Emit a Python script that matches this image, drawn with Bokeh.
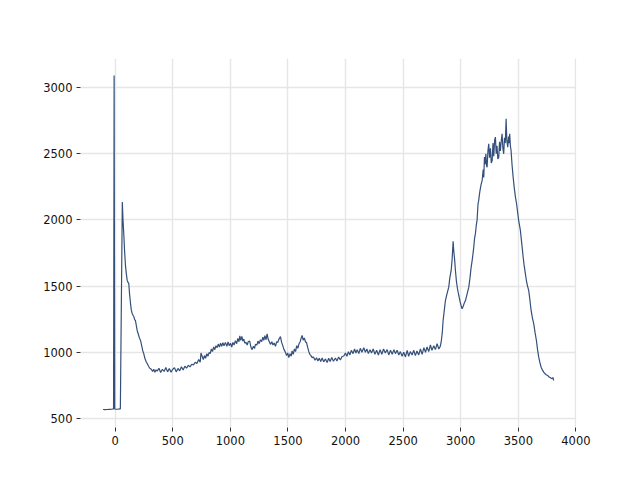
from bokeh.plotting import figure
from bokeh.models import Range1d, FixedTicker
from bokeh.embed import file_html
from bokeh.resources import INLINE

x_vals = [
    -105, -90, -70, -50, -30, -18, -14, -9, -4, 5, 20, 40, 45, 62, 68, 75, 82, 89, 96, 104,
    110, 118, 125, 133, 140, 147, 155, 162, 170, 176, 184, 191, 200, 210, 220, 230, 240, 248,
    258, 268, 278, 290, 300, 306, 315, 325, 335, 345, 355, 365,
    380, 395, 410, 425, 440, 455, 470, 485, 500, 515, 530, 545, 560, 575, 590, 605, 620, 635,
    650, 665, 680, 695, 710, 725, 738, 745, 755, 765, 775, 785, 795, 805, 815, 825, 835, 845,
    855, 865, 875, 885, 895, 905, 915, 925, 935, 945, 957, 970, 980, 990, 1001, 1012, 1022,
    1032, 1044, 1055, 1065, 1075, 1082, 1090, 1100, 1108, 1117, 1125, 1135, 1146, 1155, 1168,
    1178, 1189, 1200, 1210, 1218, 1230, 1240, 1250, 1261, 1272, 1282, 1290, 1300, 1310, 1319,
    1328, 1338, 1348, 1360, 1370, 1380, 1392, 1402, 1412, 1422, 1435, 1445, 1455, 1466, 1478,
    1488, 1498, 1507, 1518, 1528, 1536, 1546, 1556, 1566, 1576, 1586, 1596, 1606, 1614, 1623,
    1632, 1642, 1652, 1662, 1672, 1681, 1690, 1700, 1710, 1722, 1735, 1748, 1760, 1772, 1785,
    1797, 1810, 1826, 1840, 1853, 1866, 1880, 1895, 1912, 1925, 1940, 1955, 1970, 1985, 1999,
    2012, 2025, 2038, 2050, 2065, 2078, 2090, 2101, 2115, 2128, 2142, 2158, 2172, 2185, 2198,
    2212, 2225, 2240, 2255, 2270, 2285, 2300, 2315, 2330, 2345, 2361, 2375, 2390, 2405, 2420,
    2433, 2448, 2462, 2476, 2491, 2505, 2520, 2535, 2548, 2562, 2578, 2592, 2606, 2620, 2635,
    2650, 2665, 2680, 2694, 2708, 2722, 2737, 2750, 2766, 2780, 2795, 2809, 2822, 2830, 2840,
    2847, 2855, 2867, 2880, 2896, 2905, 2917, 2925, 2934, 2940, 2947, 2954, 2962, 2972, 2983,
    2995, 3004, 3012, 3022, 3032, 3041, 3055, 3070, 3080, 3090, 3099, 3106, 3113, 3120, 3128,
    3135, 3142, 3150, 3156, 3165, 3175, 3186, 3195, 3200, 3206, 3212, 3218, 3224, 3229, 3236,
    3243, 3250, 3258, 3265, 3273, 3280, 3287, 3294, 3301, 3308, 3315, 3322, 3330, 3337, 3344,
    3352, 3359, 3366, 3373, 3380, 3387, 3394, 3400, 3408, 3415, 3420, 3425, 3431, 3437, 3445,
    3455, 3465, 3475, 3485, 3495, 3503, 3510, 3518, 3525, 3533, 3542, 3550, 3560, 3570, 3580,
    3590, 3600, 3611, 3622, 3634, 3645, 3657, 3667, 3677, 3688, 3698, 3710, 3720, 3730, 3742,
    3755, 3765, 3775, 3785, 3793, 3800, 3807,
]

y_vals = [
    568, 567, 568, 569, 570, 572, 572, 3090, 572, 570, 570, 572, 572, 2135, 2000, 1890, 1760, 1660, 1600, 1545,
    1530, 1520, 1440, 1370, 1320, 1295, 1280, 1270, 1245, 1240, 1200, 1165, 1140, 1110, 1090, 1050, 1010, 990,
    955, 930, 915, 895, 880, 877, 870, 855, 872, 850, 868, 858,
    880, 848, 872, 855, 885, 852, 878, 850, 872, 884, 852, 878, 860, 890, 866, 895, 880, 902,
    890, 910, 905, 925, 915, 945, 925, 995, 970, 945, 975, 955, 990, 970, 998, 990, 1025, 1005,
    1040, 1020, 1050, 1035, 1062, 1040, 1068, 1045, 1072, 1050, 1075, 1045, 1078, 1050, 1068, 1040, 1075,
    1055, 1088, 1065, 1105, 1080, 1125, 1090, 1120, 1085, 1100, 1070, 1075, 1055, 1080, 1085,
    1040, 1020, 1045, 1030, 1060, 1055, 1085, 1065, 1095, 1080, 1115, 1090, 1125, 1095, 1140,
    1100, 1080, 1060, 1080, 1055, 1070, 1045, 1080, 1075, 1100, 1118, 1075, 1050, 1020, 1000,
    975, 995, 960, 990, 970, 1010, 985, 1025, 1005, 1050, 1030, 1065, 1080, 1105, 1128,
    1092, 1108, 1080, 1072, 1035, 1005, 985, 975, 960, 965, 940, 958, 935, 955, 930,
    958, 928, 950, 922, 955, 930, 960, 932, 957, 935, 965, 942, 968, 972, 995,
    970, 1005, 980, 1015, 990, 1025, 995, 1020, 990, 1030, 1000, 1035, 1000, 1025, 990,
    1020, 995, 1025, 985, 1015, 980, 1020, 985, 1025, 995, 1020, 980, 1015, 985, 1020,
    990, 1015, 980, 1005, 970, 1000, 965, 1015, 970, 1005, 980, 1015, 975, 1010, 980,
    1025, 985, 1035, 1000, 1040, 1005, 1055, 1015, 1050, 1020, 1065, 1025, 1045, 1076, 1150,
    1240, 1300, 1391, 1440, 1492, 1560, 1618, 1700, 1839, 1760, 1700, 1618, 1540, 1480, 1429,
    1380, 1350, 1329, 1350, 1375, 1391, 1440, 1492, 1560, 1640, 1693, 1740, 1794, 1860, 1900,
    1960, 2000, 2120, 2147, 2210, 2260, 2298, 2380, 2320, 2474, 2420, 2500, 2410, 2398, 2520,
    2575, 2470, 2540, 2430, 2449, 2580, 2480, 2600, 2625, 2500, 2560, 2460, 2474, 2590, 2520,
    2600, 2650, 2540, 2499, 2620, 2580, 2763, 2600, 2549, 2630, 2580, 2650, 2560, 2524, 2420,
    2323, 2240, 2172, 2120, 2050, 1995, 1960, 1920, 1860, 1794, 1718, 1660, 1600, 1542, 1500,
    1467, 1400, 1316, 1260, 1215, 1150, 1089, 1020, 963, 920, 887, 865, 850, 840, 830,
    825, 815, 810, 805, 800, 810, 787,
]

x_ticks = [0, 500, 1000, 1500, 2000, 2500, 3000, 3500, 4000]
y_ticks = [500, 1000, 1500, 2000, 2500, 3000]

p = figure(
    width=624, height=464,
    output_backend="svg", toolbar_location=None,
    x_range=Range1d(-301, 4005), y_range=Range1d(432, 3219),
    min_border_left=80, min_border_right=48, min_border_top=58, min_border_bottom=37,
)
p.outline_line_color = None
p.background_fill_color = "white"
p.border_fill_color = "white"

p.line(x_vals, y_vals, line_color="#34507a", line_width=1.2)

for ax, ticks in ((p.xaxis[0], x_ticks), (p.yaxis[0], y_ticks)):
    ax.ticker = FixedTicker(ticks=ticks)
    ax.axis_line_color = None
    ax.major_tick_out = 4
    ax.major_tick_in = 0
    ax.major_tick_line_color = "#333333"
    ax.minor_tick_line_color = None
    ax.major_label_text_font = "DejaVu Sans"
    ax.major_label_text_font_size = "11.5px"
    ax.major_label_text_color = "#111111"
    ax.major_label_standoff = 4

p.xgrid.ticker = FixedTicker(ticks=x_ticks)
p.ygrid.ticker = FixedTicker(ticks=y_ticks)
for g in (p.xgrid[0], p.ygrid[0]):
    g.grid_line_color = "#e6e6e6"
    g.grid_line_width = 1.4

open("out.html", "w").write(file_html(p, INLINE))
